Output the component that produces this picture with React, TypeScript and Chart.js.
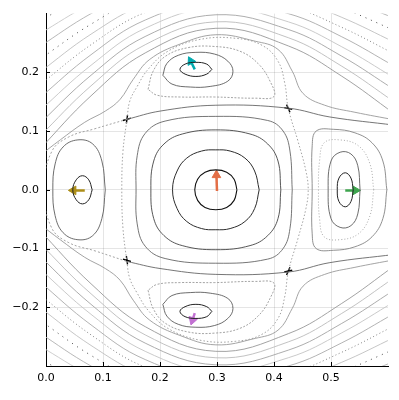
import React, { useEffect, useRef } from "react";
import { Chart, registerables } from "chart.js";

Chart.register(...registerables);

type Pt = [number, number];

// ---- axes ----
const xTickValues = [0, 0.1, 0.2, 0.3, 0.4, 0.5];
const yTickValues = [-0.2, -0.1, 0, 0.1, 0.2];
const xRange = [0, 0.6];
const yRange = [-0.3, 0.3];

// ---- central well ----
const centerRing1: Pt[] = [[0.335, 0], [0.330, 0.018], [0.317, 0.030], [0.298, 0.034], [0.279, 0.030], [0.266, 0.018], [0.261, 0], [0.266, -0.018], [0.279, -0.030], [0.298, -0.034], [0.317, -0.030], [0.330, -0.018], [0.335, 0]];
const centerRing2: Pt[] = [[0.374, 0], [0.366, 0.032], [0.349, 0.054], [0.323, 0.066], [0.298, 0.068], [0.273, 0.066], [0.247, 0.054], [0.230, 0.032], [0.222, 0], [0.230, -0.032], [0.247, -0.054], [0.273, -0.066], [0.298, -0.068], [0.323, -0.066], [0.349, -0.054], [0.366, -0.032], [0.374, 0]];
const centerRing3: Pt[] = [[0.412, 0], [0.407, 0.049], [0.389, 0.078], [0.358, 0.095], [0.298, 0.102], [0.239, 0.095], [0.207, 0.078], [0.189, 0.049], [0.184, 0], [0.189, -0.049], [0.207, -0.078], [0.239, -0.095], [0.298, -0.102], [0.358, -0.095], [0.389, -0.078], [0.407, -0.049], [0.412, 0]];
const centerRing4: Pt[] = [[0.432, 0], [0.428, 0.066], [0.416, 0.100], [0.389, 0.118], [0.298, 0.125], [0.209, 0.117], [0.174, 0.096], [0.160, 0.058], [0.158, 0], [0.160, -0.058], [0.174, -0.096], [0.209, -0.117], [0.298, -0.125], [0.389, -0.118], [0.416, -0.100], [0.428, -0.066], [0.432, 0]];

// ---- upper well ----
const topRing1: Pt[] = [[0.291, 0.205], [0.282, 0.214], [0.263, 0.217], [0.244, 0.214], [0.235, 0.205], [0.244, 0.197], [0.263, 0.193], [0.282, 0.197], [0.291, 0.205]];
const topRing2: Pt[] = [[0.205, 0.195], [0.212, 0.215], [0.232, 0.229], [0.263, 0.234], [0.296, 0.231], [0.319, 0.219], [0.328, 0.202], [0.319, 0.185], [0.288, 0.176], [0.253, 0.175], [0.221, 0.180], [0.205, 0.195]];
const topRing3: Pt[] = [[0.179, 0.171], [0.188, 0.202], [0.209, 0.227], [0.249, 0.242], [0.296, 0.244], [0.340, 0.236], [0.372, 0.215], [0.393, 0.185], [0.400, 0.159], [0.367, 0.156], [0.296, 0.158], [0.235, 0.158], [0.195, 0.161], [0.179, 0.171]];

// ---- lower well ----
const bottomRing1: Pt[] = [[0.291, -0.207], [0.282, -0.216], [0.263, -0.219], [0.244, -0.216], [0.235, -0.207], [0.244, -0.199], [0.263, -0.195], [0.282, -0.199], [0.291, -0.207]];
const bottomRing2: Pt[] = [[0.205, -0.195], [0.212, -0.215], [0.232, -0.229], [0.263, -0.234], [0.296, -0.231], [0.319, -0.219], [0.328, -0.202], [0.319, -0.185], [0.288, -0.176], [0.253, -0.175], [0.221, -0.180], [0.205, -0.195]];
const bottomRing3: Pt[] = [[0.179, -0.171], [0.188, -0.202], [0.209, -0.227], [0.249, -0.242], [0.296, -0.244], [0.340, -0.236], [0.372, -0.215], [0.393, -0.185], [0.400, -0.159], [0.367, -0.156], [0.296, -0.158], [0.235, -0.158], [0.195, -0.161], [0.179, -0.171]];

// ---- left well ----
const leftRing1: Pt[] = [[0.081, 0], [0.075, 0.017], [0.064, 0.024], [0.053, 0.017], [0.047, 0], [0.053, -0.017], [0.064, -0.024], [0.075, -0.017], [0.081, 0]];
const leftRing2: Pt[] = [[0.104, 0], [0.098, 0.049], [0.082, 0.078], [0.056, 0.085], [0.030, 0.073], [0.016, 0.044], [0.012, 0], [0.016, -0.044], [0.030, -0.073], [0.056, -0.085], [0.082, -0.078], [0.098, -0.049], [0.104, 0]];
const leftLoop: Pt[] = [[0.142, 0.120], [0.086, 0.104], [0.040, 0.090], [0.010, 0.065], [-0.004, 0], [0.010, -0.065], [0.040, -0.090], [0.086, -0.104], [0.142, -0.122]];

// ---- right well ----
const rightRing1: Pt[] = [[0.539, 0], [0.535, 0.020], [0.525, 0.029], [0.514, 0.020], [0.511, 0], [0.514, -0.020], [0.525, -0.029], [0.535, -0.020], [0.539, 0]];
const rightRing2: Pt[] = [[0.551, 0], [0.547, 0.041], [0.535, 0.061], [0.516, 0.064], [0.500, 0.049], [0.495, 0], [0.500, -0.049], [0.516, -0.064], [0.535, -0.061], [0.547, -0.041], [0.551, 0]];
const rightRing3: Pt[] = [[0.575, 0], [0.568, 0.045], [0.548, 0.075], [0.515, 0.085], [0.488, 0.080], [0.480, 0.050], [0.478, 0], [0.480, -0.050], [0.488, -0.080], [0.515, -0.085], [0.548, -0.075], [0.568, -0.045], [0.575, 0]];
const rightRing4: Pt[] = [[0.598, 0], [0.591, 0.049], [0.572, 0.080], [0.542, 0.097], [0.504, 0.103], [0.474, 0.100], [0.467, 0.075], [0.467, 0], [0.467, -0.075], [0.474, -0.100], [0.504, -0.103], [0.542, -0.097], [0.572, -0.080], [0.591, -0.049], [0.598, 0]];

// ---- separatrices ----
const sepMidTop: Pt[] = [[0.142, 0.120], [0.200, 0.134], [0.298, 0.144], [0.425, 0.139], [0.498, 0.124], [0.612, 0.110]];
const sepMidBottom: Pt[] = [[0.142, -0.122], [0.200, -0.134], [0.298, -0.144], [0.425, -0.140], [0.498, -0.124], [0.612, -0.110]];
const sepLoop: Pt[] = [[0.142, 0.120], [0.147, 0.151], [0.160, 0.176], [0.179, 0.205], [0.214, 0.236], [0.270, 0.256], [0.332, 0.258], [0.379, 0.246], [0.407, 0.219], [0.419, 0.181], [0.425, 0.139], [0.442, 0.083], [0.456, 0.032], [0.460, 0], [0.456, -0.032], [0.442, -0.083], [0.425, -0.140], [0.419, -0.181], [0.407, -0.219], [0.379, -0.246], [0.332, -0.258], [0.270, -0.256], [0.214, -0.236], [0.179, -0.205], [0.160, -0.176], [0.147, -0.151], [0.142, -0.122], [0.135, -0.065], [0.133, 0], [0.135, 0.065], [0.142, 0.120]];
const nearSepTop: Pt[] = [[-0.014, 0.056], [0.025, 0.085], [0.068, 0.115], [0.104, 0.134], [0.130, 0.154], [0.153, 0.188], [0.182, 0.222], [0.235, 0.248], [0.298, 0.264], [0.367, 0.253], [0.407, 0.239], [0.432, 0.202], [0.451, 0.164], [0.489, 0.144], [0.542, 0.132], [0.612, 0.119]];
const nearSepBottom: Pt[] = [[-0.014, -0.056], [0.025, -0.085], [0.068, -0.115], [0.104, -0.134], [0.130, -0.154], [0.153, -0.188], [0.182, -0.222], [0.235, -0.248], [0.298, -0.264], [0.367, -0.253], [0.407, -0.239], [0.432, -0.202], [0.451, -0.164], [0.489, -0.144], [0.542, -0.132], [0.612, -0.119]];

// ---- saddle marks ----
const saddleUL1: Pt[] = [[0.135, 0.118], [0.149, 0.122]];
const saddleUL2: Pt[] = [[0.143, 0.127], [0.141, 0.113]];
const saddleUR1: Pt[] = [[0.418, 0.140], [0.432, 0.137]];
const saddleUR2: Pt[] = [[0.422, 0.145], [0.428, 0.132]];
const saddleLL1: Pt[] = [[0.135, -0.118], [0.149, -0.122]];
const saddleLL2: Pt[] = [[0.143, -0.127], [0.141, -0.113]];
const saddleLR1: Pt[] = [[0.418, -0.140], [0.432, -0.137]];
const saddleLR2: Pt[] = [[0.422, -0.145], [0.428, -0.132]];

// ---- outer level curves (shared x stations) ----
const outerX = [-0.014, 0.079, 0.174, 0.298, 0.425, 0.518, 0.612];
const outerTop1 = [0.066, 0.160, 0.233, 0.275, 0.245, 0.194, 0.129];
const outerTop2 = [0.088, 0.177, 0.247, 0.286, 0.259, 0.211, 0.149];
const outerTop3 = [0.110, 0.195, 0.261, 0.298, 0.273, 0.228, 0.170];
const outerTop4 = [0.132, 0.212, 0.275, 0.310, 0.286, 0.244, 0.190];
const outerTop5 = [0.154, 0.230, 0.289, 0.322, 0.300, 0.261, 0.210];
const outerTop6 = [0.176, 0.247, 0.302, 0.334, 0.313, 0.277, 0.231];
const outerTop7 = [0.198, 0.265, 0.316, 0.346, 0.327, 0.294, 0.251];
const outerTop8 = [0.220, 0.282, 0.330, 0.358, 0.340, 0.310, 0.271];
const outerTop9 = [0.242, 0.300, 0.344, 0.370, 0.354, 0.327, 0.292];
const outerTop10 = [0.264, 0.317, 0.358, 0.381, 0.368, 0.343, 0.312];
const outerTop11 = [0.286, 0.335, 0.372, 0.393, 0.381, 0.360, 0.332];
const outerTop12 = [0.309, 0.352, 0.386, 0.405, 0.395, 0.376, 0.353];
const outerBottom1 = [-0.066, -0.160, -0.233, -0.275, -0.245, -0.194, -0.129];
const outerBottom2 = [-0.088, -0.177, -0.247, -0.286, -0.259, -0.211, -0.149];
const outerBottom3 = [-0.110, -0.195, -0.261, -0.298, -0.273, -0.228, -0.170];
const outerBottom4 = [-0.132, -0.212, -0.275, -0.310, -0.286, -0.244, -0.190];
const outerBottom5 = [-0.154, -0.230, -0.289, -0.322, -0.300, -0.261, -0.210];
const outerBottom6 = [-0.176, -0.247, -0.302, -0.334, -0.313, -0.277, -0.231];
const outerBottom7 = [-0.198, -0.265, -0.316, -0.346, -0.327, -0.294, -0.251];
const outerBottom8 = [-0.220, -0.282, -0.330, -0.358, -0.340, -0.310, -0.271];
const outerBottom9 = [-0.242, -0.300, -0.344, -0.370, -0.354, -0.327, -0.292];
const outerBottom10 = [-0.264, -0.317, -0.358, -0.381, -0.368, -0.343, -0.312];
const outerBottom11 = [-0.286, -0.335, -0.372, -0.393, -0.381, -0.360, -0.332];
const outerBottom12 = [-0.309, -0.352, -0.386, -0.405, -0.395, -0.376, -0.353];

// ---- arrows: [tail, head] ----
const arrowCenter: Pt[] = [[0.300, -0.002], [0.299, 0.025]];
const arrowRight: Pt[] = [[0.525, -0.001], [0.543, -0.001]];
const arrowLeft: Pt[] = [[0.068, -0.001], [0.048, -0.001]];
const arrowTop: Pt[] = [[0.261, 0.205], [0.254, 0.219]];
const arrowBottom: Pt[] = [[0.261, -0.210], [0.257, -0.222]];

const toXY = (pts: Pt[]) => pts.map(([x, y]) => ({ x, y }));
const zipXY = (xs: number[], ys: number[]) => xs.map((x, i) => ({ x, y: ys[i] }));

function curve(data: { x: number; y: number }[], color: string, width = 1, dash: number[] = []) {
  return {
    data,
    showLine: true,
    borderColor: color,
    borderWidth: width,
    borderDash: dash,
    pointRadius: 0,
    pointHoverRadius: 0,
    tension: 0.4,
    fill: false,
    clip: 0,
  };
}

function arrow(pts: Pt[], color: string, rot: number) {
  return {
    data: toXY(pts),
    showLine: true,
    borderColor: color,
    borderWidth: 2.5,
    tension: 0,
    pointRadius: [0, 5],
    pointHoverRadius: 0,
    pointStyle: "triangle",
    pointRotation: [0, rot],
    pointBackgroundColor: color,
    pointBorderColor: color,
    pointBorderWidth: 1,
    fill: false,
  };
}

const fmt = (v: number) => (v < -1e-9 ? "\u2212" : "") + Math.abs(v).toFixed(1);

const inwardTicks = {
  id: "inwardTicks",
  afterDraw(chart: any) {
    const { ctx, chartArea: a, scales } = chart;
    ctx.save();
    ctx.strokeStyle = "#000";
    ctx.lineWidth = 1;
    xTickValues.forEach((v) => {
      const px = Math.round(scales.x.getPixelForValue(v)) + 0.5;
      ctx.beginPath();
      ctx.moveTo(px, a.bottom);
      ctx.lineTo(px, a.bottom - 4);
      ctx.stroke();
    });
    yTickValues.forEach((v) => {
      const py = Math.round(scales.y.getPixelForValue(v)) + 0.5;
      ctx.beginPath();
      ctx.moveTo(a.left, py);
      ctx.lineTo(a.left + 4, py);
      ctx.stroke();
    });
    ctx.restore();
  },
};

export default function App() {
  const ref = useRef<HTMLCanvasElement | null>(null);

  useEffect(() => {
    document.body.style.margin = "0";
    const canvas = ref.current;
    if (!canvas) return;

    const outerTops = [outerTop1, outerTop2, outerTop3, outerTop4, outerTop5, outerTop6, outerTop7, outerTop8, outerTop9, outerTop10, outerTop11, outerTop12];
    const outerBottoms = [outerBottom1, outerBottom2, outerBottom3, outerBottom4, outerBottom5, outerBottom6, outerBottom7, outerBottom8, outerBottom9, outerBottom10, outerBottom11, outerBottom12];
    const outerStyle: [string, number[]][] = [
      ["#999999", []],
      ["#bbbbbb", []],
      ["#a4a4a4", []],
      ["#c4c4c4", []],
      ["#aaaaaa", []],
      ["#777777", [1, 2.5]],
      ["#bfbfbf", []],
      ["#333333", [1, 5]],
      ["#b0b0b0", []],
      ["#c8c8c8", []],
      ["#333333", [1, 6]],
      ["#b8b8b8", []],
    ];

    const datasets: any[] = [];
    outerTops.forEach((ys, i) => datasets.push(curve(zipXY(outerX, ys), outerStyle[i][0], 0.9, outerStyle[i][1])));
    outerBottoms.forEach((ys, i) => datasets.push(curve(zipXY(outerX, ys), outerStyle[i][0], 0.9, outerStyle[i][1])));

    datasets.push(curve(toXY(nearSepTop), "#9a9a9a", 0.9));
    datasets.push(curve(toXY(nearSepBottom), "#9a9a9a", 0.9));
    datasets.push(curve(toXY(sepLoop), "#999999", 0.9, [1.5, 2]));
    datasets.push(curve(toXY(leftLoop), "#999999", 0.9, [2, 2]));
    datasets.push(curve(toXY(sepMidTop), "#666666", 0.9));
    datasets.push(curve(toXY(sepMidBottom), "#666666", 0.9));

    datasets.push(curve(toXY(centerRing4), "#666666", 0.9));
    datasets.push(curve(toXY(centerRing3), "#444444", 0.9));
    datasets.push(curve(toXY(centerRing2), "#2c2c2c", 1));
    datasets.push(curve(toXY(centerRing1), "#111111", 1.1));

    datasets.push(curve(toXY(topRing3), "#999999", 0.9, [2, 1.5]));
    datasets.push(curve(toXY(topRing2), "#5c5c5c", 0.9));
    datasets.push(curve(toXY(topRing1), "#222222", 1));
    datasets.push(curve(toXY(bottomRing3), "#999999", 0.9, [2, 1.5]));
    datasets.push(curve(toXY(bottomRing2), "#5c5c5c", 0.9));
    datasets.push(curve(toXY(bottomRing1), "#222222", 1));

    datasets.push(curve(toXY(leftRing2), "#5c5c5c", 0.9));
    datasets.push(curve(toXY(leftRing1), "#222222", 1));

    datasets.push(curve(toXY(rightRing4), "#858585", 0.9));
    datasets.push(curve(toXY(rightRing3), "#a0a0a0", 0.9, [1, 2]));
    datasets.push(curve(toXY(rightRing2), "#5c5c5c", 0.9));
    datasets.push(curve(toXY(rightRing1), "#222222", 1));

    [saddleUL1, saddleUL2, saddleUR1, saddleUR2, saddleLL1, saddleLL2, saddleLR1, saddleLR2].forEach((s) => {
      const d = curve(toXY(s), "#000000", 1.4);
      d.tension = 0;
      datasets.push(d);
    });

    datasets.push(arrow(arrowCenter, "#E36F47", 0));
    datasets.push(arrow(arrowRight, "#3EA44E", 90));
    datasets.push(arrow(arrowLeft, "#AC8E18", -90));
    datasets.push(arrow(arrowTop, "#00AAAE", -27));
    datasets.push(arrow(arrowBottom, "#C271D2", 198));

    const tickFont = { family: "'DejaVu Sans', sans-serif", size: 11 };

    const chart = new Chart(canvas, {
      type: "scatter",
      data: { datasets },
      plugins: [inwardTicks],
      options: {
        animation: false,
        responsive: false,
        devicePixelRatio: 1,
        events: [],
        layout: { padding: { left: 0, right: 11, top: 12, bottom: 0 } },
        plugins: { legend: { display: false }, tooltip: { enabled: false } },
        scales: {
          x: {
            type: "linear",
            min: xRange[0],
            max: xRange[1],
            afterBuildTicks: (scale: any) => {
              scale.ticks = xTickValues.map((v) => ({ value: v }));
            },
            afterFit: (scale: any) => {
              scale.height = 34;
            },
            ticks: {
              callback: (v: any) => fmt(Number(v)),
              font: tickFont,
              color: "#000",
              padding: 6,
              maxRotation: 0,
              autoSkip: false,
            },
            grid: { color: "rgba(0,0,0,0.1)", drawTicks: false, lineWidth: 1 },
            border: { display: true, color: "#000", width: 1 },
          },
          y: {
            type: "linear",
            min: yRange[0],
            max: yRange[1],
            afterBuildTicks: (scale: any) => {
              scale.ticks = yTickValues.map((v) => ({ value: v }));
            },
            afterFit: (scale: any) => {
              scale.width = 46;
            },
            ticks: {
              callback: (v: any) => fmt(Number(v)),
              font: tickFont,
              color: "#000",
              padding: 7,
              autoSkip: false,
            },
            grid: { color: "rgba(0,0,0,0.1)", drawTicks: false, lineWidth: 1 },
            border: { display: true, color: "#000", width: 1 },
          },
        },
      } as any,
    });

    return () => chart.destroy();
  }, []);

  return (
    <div style={{ width: 399, height: 400 }}>
      <canvas ref={ref} width={399} height={400} style={{ display: "block" }} />
    </div>
  );
}
